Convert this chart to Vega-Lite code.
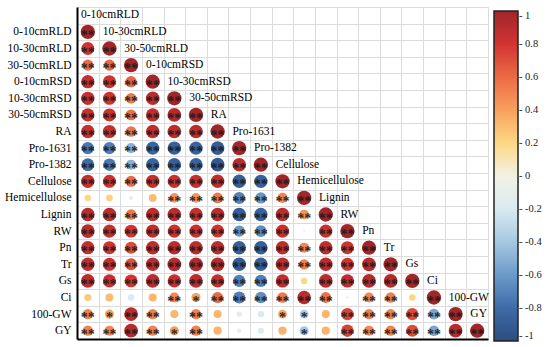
{
  "$schema": "https://vega.github.io/schema/vega-lite/v6.json",
  "width": 411,
  "height": 332,
  "autosize": {"type": "none"},
  "padding": {"left": 77, "top": 7, "right": 62, "bottom": 8},
  "background": "white",
  "config": {"view": {"stroke": "#dcdcdc", "strokeWidth": 1}},
  "datasets": {
    "corr": [
      {"r":"0-10cmRLD","c":"0-10cmRLD","v":1,"s":"**"},
      {"r":"10-30cmRLD","c":"0-10cmRLD","v":0.82,"s":"**"},{"r":"10-30cmRLD","c":"10-30cmRLD","v":1,"s":"**"},
      {"r":"30-50cmRLD","c":"0-10cmRLD","v":0.6,"s":"**"},{"r":"30-50cmRLD","c":"10-30cmRLD","v":0.6,"s":"**"},{"r":"30-50cmRLD","c":"30-50cmRLD","v":1,"s":"**"},
      {"r":"0-10cmRSD","c":"0-10cmRLD","v":0.86,"s":"**"},{"r":"0-10cmRSD","c":"10-30cmRLD","v":0.82,"s":"**"},{"r":"0-10cmRSD","c":"30-50cmRLD","v":0.62,"s":"**"},{"r":"0-10cmRSD","c":"0-10cmRSD","v":1,"s":"**"},
      {"r":"10-30cmRSD","c":"0-10cmRLD","v":0.86,"s":"**"},{"r":"10-30cmRSD","c":"10-30cmRLD","v":0.83,"s":"**"},{"r":"10-30cmRSD","c":"30-50cmRLD","v":0.55,"s":"**"},{"r":"10-30cmRSD","c":"0-10cmRSD","v":0.9,"s":"**"},{"r":"10-30cmRSD","c":"10-30cmRSD","v":1,"s":"**"},
      {"r":"30-50cmRSD","c":"0-10cmRLD","v":0.85,"s":"**"},{"r":"30-50cmRSD","c":"10-30cmRLD","v":0.83,"s":"**"},{"r":"30-50cmRSD","c":"30-50cmRLD","v":0.58,"s":"**"},{"r":"30-50cmRSD","c":"0-10cmRSD","v":0.88,"s":"**"},{"r":"30-50cmRSD","c":"10-30cmRSD","v":0.92,"s":"**"},{"r":"30-50cmRSD","c":"30-50cmRSD","v":1,"s":"**"},
      {"r":"RA","c":"0-10cmRLD","v":0.86,"s":"**"},{"r":"RA","c":"10-30cmRLD","v":0.85,"s":"**"},{"r":"RA","c":"30-50cmRLD","v":0.56,"s":"**"},{"r":"RA","c":"0-10cmRSD","v":0.88,"s":"**"},{"r":"RA","c":"10-30cmRSD","v":0.9,"s":"**"},{"r":"RA","c":"30-50cmRSD","v":0.9,"s":"**"},{"r":"RA","c":"RA","v":1,"s":"**"},
      {"r":"Pro-1631","c":"0-10cmRLD","v":-0.75,"s":"**"},{"r":"Pro-1631","c":"10-30cmRLD","v":-0.72,"s":"**"},{"r":"Pro-1631","c":"30-50cmRLD","v":-0.5,"s":"**"},{"r":"Pro-1631","c":"0-10cmRSD","v":-0.85,"s":"**"},{"r":"Pro-1631","c":"10-30cmRSD","v":-0.88,"s":"**"},{"r":"Pro-1631","c":"30-50cmRSD","v":-0.86,"s":"**"},{"r":"Pro-1631","c":"RA","v":-0.9,"s":"**"},{"r":"Pro-1631","c":"Pro-1631","v":1,"s":"**"},
      {"r":"Pro-1382","c":"0-10cmRLD","v":-0.8,"s":"**"},{"r":"Pro-1382","c":"10-30cmRLD","v":-0.75,"s":"**"},{"r":"Pro-1382","c":"30-50cmRLD","v":-0.5,"s":"**"},{"r":"Pro-1382","c":"0-10cmRSD","v":-0.85,"s":"**"},{"r":"Pro-1382","c":"10-30cmRSD","v":-0.88,"s":"**"},{"r":"Pro-1382","c":"30-50cmRSD","v":-0.86,"s":"**"},{"r":"Pro-1382","c":"RA","v":-0.92,"s":"**"},{"r":"Pro-1382","c":"Pro-1631","v":0.9,"s":"**"},{"r":"Pro-1382","c":"Pro-1382","v":1,"s":"**"},
      {"r":"Cellulose","c":"0-10cmRLD","v":0.86,"s":"**"},{"r":"Cellulose","c":"10-30cmRLD","v":0.83,"s":"**"},{"r":"Cellulose","c":"30-50cmRLD","v":0.6,"s":"**"},{"r":"Cellulose","c":"0-10cmRSD","v":0.86,"s":"**"},{"r":"Cellulose","c":"10-30cmRSD","v":0.85,"s":"**"},{"r":"Cellulose","c":"30-50cmRSD","v":0.86,"s":"**"},{"r":"Cellulose","c":"RA","v":0.88,"s":"**"},{"r":"Cellulose","c":"Pro-1631","v":-0.88,"s":"**"},{"r":"Cellulose","c":"Pro-1382","v":-0.86,"s":"**"},{"r":"Cellulose","c":"Cellulose","v":1,"s":"**"},
      {"r":"Hemicellulose","c":"0-10cmRLD","v":0.2,"s":""},{"r":"Hemicellulose","c":"10-30cmRLD","v":0.22,"s":""},{"r":"Hemicellulose","c":"30-50cmRLD","v":-0.08,"s":""},{"r":"Hemicellulose","c":"0-10cmRSD","v":0.3,"s":""},{"r":"Hemicellulose","c":"10-30cmRSD","v":0.45,"s":"**"},{"r":"Hemicellulose","c":"30-50cmRSD","v":0.45,"s":"**"},{"r":"Hemicellulose","c":"RA","v":0.55,"s":"**"},{"r":"Hemicellulose","c":"Pro-1631","v":-0.7,"s":"**"},{"r":"Hemicellulose","c":"Pro-1382","v":-0.62,"s":"**"},{"r":"Hemicellulose","c":"Cellulose","v":0.5,"s":"**"},{"r":"Hemicellulose","c":"Hemicellulose","v":1,"s":"**"},
      {"r":"Lignin","c":"0-10cmRLD","v":0.9,"s":"**"},{"r":"Lignin","c":"10-30cmRLD","v":0.9,"s":"**"},{"r":"Lignin","c":"30-50cmRLD","v":0.55,"s":"**"},{"r":"Lignin","c":"0-10cmRSD","v":0.88,"s":"**"},{"r":"Lignin","c":"10-30cmRSD","v":0.9,"s":"**"},{"r":"Lignin","c":"30-50cmRSD","v":0.86,"s":"**"},{"r":"Lignin","c":"RA","v":0.9,"s":"**"},{"r":"Lignin","c":"Pro-1631","v":-0.9,"s":"**"},{"r":"Lignin","c":"Pro-1382","v":-0.86,"s":"**"},{"r":"Lignin","c":"Cellulose","v":0.9,"s":"**"},{"r":"Lignin","c":"Hemicellulose","v":0.45,"s":"**"},{"r":"Lignin","c":"Lignin","v":1,"s":"**"},
      {"r":"RW","c":"0-10cmRLD","v":0.9,"s":"**"},{"r":"RW","c":"10-30cmRLD","v":0.85,"s":"**"},{"r":"RW","c":"30-50cmRLD","v":0.8,"s":"**"},{"r":"RW","c":"0-10cmRSD","v":0.88,"s":"**"},{"r":"RW","c":"10-30cmRSD","v":0.84,"s":"**"},{"r":"RW","c":"30-50cmRSD","v":0.84,"s":"**"},{"r":"RW","c":"RA","v":0.82,"s":"**"},{"r":"RW","c":"Pro-1631","v":-0.62,"s":"**"},{"r":"RW","c":"Pro-1382","v":-0.66,"s":"**"},{"r":"RW","c":"Cellulose","v":0.85,"s":"**"},{"r":"RW","c":"Hemicellulose","v":0.02,"s":""},{"r":"RW","c":"Lignin","v":0.84,"s":"**"},{"r":"RW","c":"RW","v":1,"s":"**"},
      {"r":"Pn","c":"0-10cmRLD","v":0.86,"s":"**"},{"r":"Pn","c":"10-30cmRLD","v":0.82,"s":"**"},{"r":"Pn","c":"30-50cmRLD","v":0.72,"s":"**"},{"r":"Pn","c":"0-10cmRSD","v":0.9,"s":"**"},{"r":"Pn","c":"10-30cmRSD","v":0.9,"s":"**"},{"r":"Pn","c":"30-50cmRSD","v":0.9,"s":"**"},{"r":"Pn","c":"RA","v":0.9,"s":"**"},{"r":"Pn","c":"Pro-1631","v":-0.88,"s":"**"},{"r":"Pn","c":"Pro-1382","v":-0.88,"s":"**"},{"r":"Pn","c":"Cellulose","v":0.88,"s":"**"},{"r":"Pn","c":"Hemicellulose","v":0.5,"s":"**"},{"r":"Pn","c":"Lignin","v":0.88,"s":"**"},{"r":"Pn","c":"RW","v":0.82,"s":"**"},{"r":"Pn","c":"Pn","v":1,"s":"**"},
      {"r":"Tr","c":"0-10cmRLD","v":0.88,"s":"**"},{"r":"Tr","c":"10-30cmRLD","v":0.84,"s":"**"},{"r":"Tr","c":"30-50cmRLD","v":0.7,"s":"**"},{"r":"Tr","c":"0-10cmRSD","v":0.9,"s":"**"},{"r":"Tr","c":"10-30cmRSD","v":0.92,"s":"**"},{"r":"Tr","c":"30-50cmRSD","v":0.93,"s":"**"},{"r":"Tr","c":"RA","v":0.92,"s":"**"},{"r":"Tr","c":"Pro-1631","v":-0.9,"s":"**"},{"r":"Tr","c":"Pro-1382","v":-0.88,"s":"**"},{"r":"Tr","c":"Cellulose","v":0.9,"s":"**"},{"r":"Tr","c":"Hemicellulose","v":0.52,"s":"**"},{"r":"Tr","c":"Lignin","v":0.9,"s":"**"},{"r":"Tr","c":"RW","v":0.82,"s":"**"},{"r":"Tr","c":"Pn","v":0.92,"s":"**"},{"r":"Tr","c":"Tr","v":1,"s":"**"},
      {"r":"Gs","c":"0-10cmRLD","v":0.9,"s":"**"},{"r":"Gs","c":"10-30cmRLD","v":0.84,"s":"**"},{"r":"Gs","c":"30-50cmRLD","v":0.8,"s":"**"},{"r":"Gs","c":"0-10cmRSD","v":0.9,"s":"**"},{"r":"Gs","c":"10-30cmRSD","v":0.86,"s":"**"},{"r":"Gs","c":"30-50cmRSD","v":0.9,"s":"**"},{"r":"Gs","c":"RA","v":0.86,"s":"**"},{"r":"Gs","c":"Pro-1631","v":-0.72,"s":"**"},{"r":"Gs","c":"Pro-1382","v":-0.72,"s":"**"},{"r":"Gs","c":"Cellulose","v":0.88,"s":"**"},{"r":"Gs","c":"Hemicellulose","v":0.2,"s":""},{"r":"Gs","c":"Lignin","v":0.9,"s":"**"},{"r":"Gs","c":"RW","v":0.88,"s":"**"},{"r":"Gs","c":"Pn","v":0.92,"s":"**"},{"r":"Gs","c":"Tr","v":0.92,"s":"**"},{"r":"Gs","c":"Gs","v":1,"s":"**"},
      {"r":"Ci","c":"0-10cmRLD","v":0.25,"s":""},{"r":"Ci","c":"10-30cmRLD","v":0.3,"s":""},{"r":"Ci","c":"30-50cmRLD","v":-0.2,"s":""},{"r":"Ci","c":"0-10cmRSD","v":0.32,"s":""},{"r":"Ci","c":"10-30cmRSD","v":0.5,"s":"**"},{"r":"Ci","c":"30-50cmRSD","v":0.4,"s":"*"},{"r":"Ci","c":"RA","v":0.6,"s":"**"},{"r":"Ci","c":"Pro-1631","v":-0.72,"s":"**"},{"r":"Ci","c":"Pro-1382","v":-0.65,"s":"**"},{"r":"Ci","c":"Cellulose","v":0.55,"s":"**"},{"r":"Ci","c":"Hemicellulose","v":0.9,"s":"**"},{"r":"Ci","c":"Lignin","v":0.58,"s":"**"},{"r":"Ci","c":"RW","v":0.03,"s":""},{"r":"Ci","c":"Pn","v":0.5,"s":"**"},{"r":"Ci","c":"Tr","v":0.52,"s":"**"},{"r":"Ci","c":"Gs","v":0.2,"s":""},{"r":"Ci","c":"Ci","v":1,"s":"**"},
      {"r":"100-GW","c":"0-10cmRLD","v":0.52,"s":"**"},{"r":"100-GW","c":"10-30cmRLD","v":0.4,"s":"*"},{"r":"100-GW","c":"30-50cmRLD","v":0.9,"s":"**"},{"r":"100-GW","c":"0-10cmRSD","v":0.52,"s":"**"},{"r":"100-GW","c":"10-30cmRSD","v":0.32,"s":""},{"r":"100-GW","c":"30-50cmRSD","v":0.52,"s":"**"},{"r":"100-GW","c":"RA","v":0.32,"s":""},{"r":"100-GW","c":"Pro-1631","v":-0.14,"s":""},{"r":"100-GW","c":"Pro-1382","v":-0.2,"s":""},{"r":"100-GW","c":"Cellulose","v":0.38,"s":"*"},{"r":"100-GW","c":"Hemicellulose","v":-0.38,"s":"*"},{"r":"100-GW","c":"Lignin","v":0.32,"s":""},{"r":"100-GW","c":"RW","v":0.75,"s":"**"},{"r":"100-GW","c":"Pn","v":0.52,"s":"**"},{"r":"100-GW","c":"Tr","v":0.52,"s":"**"},{"r":"100-GW","c":"Gs","v":0.72,"s":"**"},{"r":"100-GW","c":"Ci","v":-0.55,"s":"**"},{"r":"100-GW","c":"100-GW","v":1,"s":"**"},
      {"r":"GY","c":"0-10cmRLD","v":0.52,"s":"**"},{"r":"GY","c":"10-30cmRLD","v":0.5,"s":"**"},{"r":"GY","c":"30-50cmRLD","v":0.92,"s":"**"},{"r":"GY","c":"0-10cmRSD","v":0.52,"s":"**"},{"r":"GY","c":"10-30cmRSD","v":0.4,"s":"*"},{"r":"GY","c":"30-50cmRSD","v":0.52,"s":"**"},{"r":"GY","c":"RA","v":0.33,"s":""},{"r":"GY","c":"Pro-1631","v":-0.1,"s":""},{"r":"GY","c":"Pro-1382","v":-0.18,"s":""},{"r":"GY","c":"Cellulose","v":0.33,"s":""},{"r":"GY","c":"Hemicellulose","v":-0.4,"s":"*"},{"r":"GY","c":"Lignin","v":0.33,"s":""},{"r":"GY","c":"RW","v":0.75,"s":"**"},{"r":"GY","c":"Pn","v":0.5,"s":"**"},{"r":"GY","c":"Tr","v":0.52,"s":"**"},{"r":"GY","c":"Gs","v":0.72,"s":"**"},{"r":"GY","c":"Ci","v":-0.55,"s":"**"},{"r":"GY","c":"100-GW","v":0.92,"s":"**"},{"r":"GY","c":"GY","v":1,"s":"**"}
    ],
    "labels": [
      {"r":"top","c":"0-10cmRLD","t":"0-10cmRLD"},
      {"r":"0-10cmRLD","c":"10-30cmRLD","t":"10-30cmRLD"},
      {"r":"10-30cmRLD","c":"30-50cmRLD","t":"30-50cmRLD"},
      {"r":"30-50cmRLD","c":"0-10cmRSD","t":"0-10cmRSD"},
      {"r":"0-10cmRSD","c":"10-30cmRSD","t":"10-30cmRSD"},
      {"r":"10-30cmRSD","c":"30-50cmRSD","t":"30-50cmRSD"},
      {"r":"30-50cmRSD","c":"RA","t":"RA"},
      {"r":"RA","c":"Pro-1631","t":"Pro-1631"},
      {"r":"Pro-1631","c":"Pro-1382","t":"Pro-1382"},
      {"r":"Pro-1382","c":"Cellulose","t":"Cellulose"},
      {"r":"Cellulose","c":"Hemicellulose","t":"Hemicellulose"},
      {"r":"Hemicellulose","c":"Lignin","t":"Lignin"},
      {"r":"Lignin","c":"RW","t":"RW"},
      {"r":"RW","c":"Pn","t":"Pn"},
      {"r":"Pn","c":"Tr","t":"Tr"},
      {"r":"Tr","c":"Gs","t":"Gs"},
      {"r":"Gs","c":"Ci","t":"Ci"},
      {"r":"Ci","c":"100-GW","t":"100-GW"},
      {"r":"100-GW","c":"GY","t":"GY"}
    ]
  },
  "encoding": {
    "x": {
      "field": "c", "type": "nominal", "sort": null,
      "scale": {"domain": ["0-10cmRLD","10-30cmRLD","30-50cmRLD","0-10cmRSD","10-30cmRSD","30-50cmRSD","RA","Pro-1631","Pro-1382","Cellulose","Hemicellulose","Lignin","RW","Pn","Tr","Gs","Ci","100-GW","GY"], "paddingInner": 0, "paddingOuter": 0},
      "axis": {"orient": "bottom", "title": null, "labels": false, "ticks": false, "domainColor": "black", "domainWidth": 2, "grid": true, "gridColor": "#dcdcdc", "gridWidth": 1, "tickBand": "extent"}
    },
    "y": {
      "field": "r", "type": "nominal", "sort": null,
      "scale": {"domain": ["top","0-10cmRLD","10-30cmRLD","30-50cmRLD","0-10cmRSD","10-30cmRSD","30-50cmRSD","RA","Pro-1631","Pro-1382","Cellulose","Hemicellulose","Lignin","RW","Pn","Tr","Gs","Ci","100-GW","GY"], "paddingInner": 0, "paddingOuter": 0},
      "axis": {"title": null, "ticks": false, "domainColor": "black", "domainWidth": 2, "grid": true, "gridColor": "#dcdcdc", "gridWidth": 1, "tickBand": "extent", "labelFont": "Liberation Serif", "labelFontSize": 11.5, "labelFontWeight": "normal", "labelColor": "black", "labelPadding": 6, "labelExpr": "datum.value == 'top' ? '' : datum.value"}
    }
  },
  "layer": [
    {
      "data": {"name": "corr"},
      "mark": {"type": "circle", "opacity": 1},
      "encoding": {
        "size": {"field": "v", "type": "quantitative", "scale": {"type": "linear", "domain": [-1, 0, 1], "range": [205, 0, 205]}, "legend": null},
        "color": {
          "field": "v", "type": "quantitative",
          "scale": {"type": "linear", "interpolate": "rgb", "domain": [-1,-0.8,-0.6,-0.4,-0.2,0,0.2,0.4,0.6,0.8,1], "range": ["#2C4D80","#3E6BA8","#6A9ACA","#A5C8E0","#D8EAF2","#F3F1E3","#FCD884","#F8A05E","#EB6A45","#D23431","#A0262A"]},
          "legend": {"orient": "none", "legendX": 417, "legendY": 4, "direction": "vertical", "title": null, "padding": 0, "gradientLength": 330, "gradientThickness": 24, "gradientStrokeColor": "#222", "gradientStrokeWidth": 1.5, "values": [1,0.8,0.6,0.4,0.2,0,-0.2,-0.4,-0.6,-0.8,-1], "labelExpr": "'- ' + toString(datum.value)", "labelFont": "Liberation Serif", "labelFontSize": 10.5, "labelColor": "#222", "labelOffset": 1, "labelBaseline": "middle"}
        }
      }
    },
    {
      "data": {"name": "corr"},
      "mark": {"type": "text", "font": "Liberation Serif", "fontSize": 14, "fontWeight": "bold", "color": "#1a1a1a", "opacity": 0.9, "baseline": "middle", "dy": 4},
      "encoding": {"text": {"field": "s"}}
    },
    {
      "data": {"name": "labels"},
      "mark": {"type": "text", "font": "Liberation Serif", "fontSize": 11.5, "fontWeight": "normal", "color": "black", "align": "left", "baseline": "middle", "dx": 4},
      "encoding": {
        "x": {"field": "c", "type": "nominal", "bandPosition": 0},
        "text": {"field": "t"}
      }
    }
  ]
}
